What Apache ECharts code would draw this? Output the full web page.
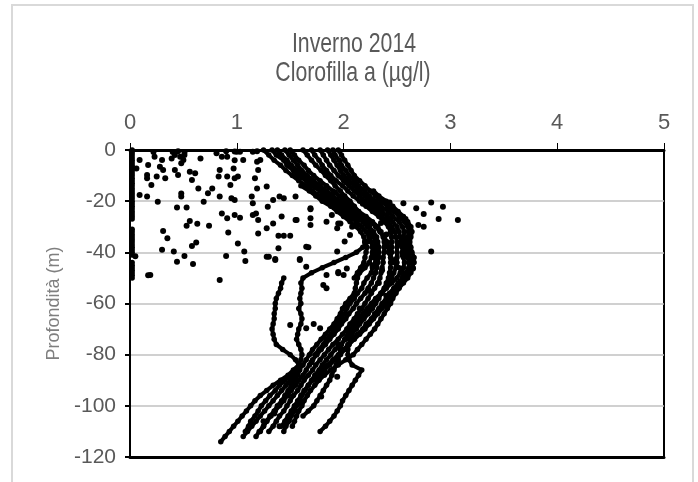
<!DOCTYPE html>
<html>
<head>
<meta charset="utf-8">
<script src="https://cdn.jsdelivr.net/npm/echarts@6/dist/echarts.min.js"></script>
<style>html,body{margin:0;padding:0;background:#fff;}#c{width:698px;height:482px;}</style>
</head>
<body>
<div id="c"></div>
<script>
// ---- data ----
const titleLines = ['Inverno 2014', 'Clorofilla a (µg/l)'];
const yName = 'Profondità (m)';
const xTicks = [0, 1, 2, 3, 4, 5];
const yTicks = [0, -20, -40, -60, -80, -100, -120];

// depths (m) at which the profile x-values below were read
const depthSteps = [0,-2,-4,-6,-8,-10,-12,-14,-16,-18,-20,-22,-24,-26,-28,-30,-32,-34,-36,-38,-40,-42,-44,-46,-48,-50,-52,-54,-56,-58,-60,-62,-64,-66,-68,-70,-72,-74,-76,-78,-80,-82,-84,-86,-88,-90,-92,-94,-96,-98,-100,-102,-104,-106,-108,-110,-112,-114];

// chlorophyll a (µg/l) of each cast, one value per depth step (null = no reading)
const cast1 = [1.62,1.66,1.70,1.74,1.79,1.83,1.88,1.92,1.97,2.01,
  2.06,2.10,2.14,2.18,2.22,2.24,2.25,2.24,2.22,2.18,
  2.12,2.02,1.91,1.80,1.70,1.62,1.60,1.61,1.60,1.59,
  1.60,1.58,1.60,1.61,1.60,1.58,1.57,1.56,1.58,1.60,
  1.61,1.60,1.58,1.53,1.48,1.41,1.34,1.28,1.22,1.17,
  1.13,1.09,1.05,1.01,0.97,0.93,0.89,0.85];
const cast2 = [null,null,null,null,null,null,null,null,null,null,
  null,null,null,null,null,null,null,null,null,null,
  null,null,null,null,null,1.44,1.42,1.41,1.39,1.37,
  1.36,1.36,1.35,1.35,1.34,1.33,1.34,1.35,1.37,1.43,
  1.50,1.55,1.58,1.59,1.57,1.54,1.51,1.48,1.45,1.42,
  1.38,1.35,1.31,1.28,1.25,1.22,null,null];
const cast3 = [1.25,1.30,1.35,1.41,1.46,1.52,1.58,1.65,1.71,1.78,
  1.85,1.92,1.99,2.05,2.12,2.17,2.21,2.24,2.26,2.27,
  2.27,2.26,2.24,2.20,2.15,2.13,2.12,2.11,2.10,2.06,
  2.02,1.99,1.97,1.94,1.91,1.87,1.83,1.79,1.75,1.71,
  1.68,1.65,1.62,1.58,1.54,1.50,1.46,1.42,1.38,1.34,
  1.30,1.26,1.22,1.18,1.14,1.10,1.06,null];
const cast4 = [1.38,1.42,1.47,1.51,1.57,1.62,1.68,1.74,1.80,1.87,
  1.93,1.99,2.06,2.12,2.19,2.24,2.28,2.31,2.32,2.33,
  2.33,2.33,2.32,2.31,2.30,2.28,2.26,2.23,2.20,2.16,
  2.12,2.09,2.05,2.02,1.98,1.95,1.91,1.87,1.83,1.79,
  1.75,1.71,1.68,1.65,1.62,1.58,1.55,1.51,1.47,1.44,
  1.40,1.36,1.32,1.28,1.25,1.21,1.18,null];
const cast5 = [1.50,1.54,1.58,1.63,1.67,1.72,1.78,1.84,1.90,1.96,
  2.02,2.08,2.14,2.21,2.27,2.32,2.35,2.37,2.38,2.38,
  2.38,2.37,2.37,2.36,2.35,2.34,2.32,2.29,2.26,2.23,
  2.20,2.17,2.13,2.10,2.06,2.03,1.99,1.95,1.90,1.86,
  1.82,1.78,1.74,1.71,1.67,1.63,1.60,1.57,1.53,1.50,
  1.47,1.44,1.40,1.37,1.34,1.30,null,null];
const cast6 = [1.70,1.73,1.77,1.80,1.84,1.88,1.93,1.99,2.04,2.09,
  2.15,2.21,2.27,2.33,2.38,2.42,2.44,2.45,2.45,2.45,
  2.45,2.44,2.44,2.44,2.43,2.42,2.40,2.38,2.35,2.33,
  2.30,2.27,2.23,2.19,2.15,2.12,2.07,2.02,1.97,1.92,
  1.88,1.84,1.80,1.77,1.73,1.70,1.67,1.64,1.61,1.59,
  1.56,1.54,1.51,1.49,1.46,1.44,null,null];
const cast7 = [1.85,1.88,1.91,1.94,1.97,2.00,2.05,2.10,2.15,2.20,
  2.25,2.30,2.36,2.41,2.46,2.50,2.52,2.53,2.54,2.55,
  2.55,2.56,2.57,2.56,2.53,2.50,2.45,2.40,2.36,2.32,
  2.29,2.25,2.20,2.16,2.12,2.10,2.08,2.06,2.05,2.04,
  2.04,2.05,2.08,2.17,2.14,2.11,2.08,2.05,2.02,1.99,
  1.97,1.94,1.91,1.87,1.83,1.78,null,null];
const cast8 = [1.78,1.81,1.84,1.87,1.91,1.95,2.00,2.05,2.10,2.15,
  2.20,2.25,2.31,2.36,2.41,2.45,2.48,2.49,2.50,2.50,
  2.50,2.50,2.50,2.49,2.47,2.45,2.43,2.39,2.35,2.30,
  2.26,2.22,2.18,2.14,2.10,2.07,2.04,2.01,1.98,1.97,
  1.96,1.95,1.93,1.91,1.89,1.87,1.84,1.81,1.78,1.75,
  1.72,1.67,1.62,null,null,null,null,null];
const cast9 = [1.95,1.98,2.01,2.04,2.07,2.10,2.15,2.20,2.25,2.30,
  2.35,2.41,2.47,2.52,2.57,2.60,2.61,2.60,2.59,2.60,
  2.61,2.62,2.64,2.65,2.63,2.60,2.56,2.52,2.49,2.46,
  2.44,2.41,2.38,2.35,2.32,2.29,2.25,2.21,2.17,2.13,
  2.09,2.02,1.95,1.88,1.82,1.77,1.73,1.69,1.66,1.63,
  1.61,1.58,1.56,1.54,1.52,null,null,null];
const cast10 = [1.45,1.49,1.53,1.57,1.61,1.66,1.72,1.78,1.84,1.90,
  1.97,2.04,2.11,2.18,2.25,2.30,2.34,2.38,2.41,2.42,
  2.42,2.44,2.47,2.52,2.55,2.55,2.52,2.49,2.45,2.42,
  2.40,2.36,2.32,2.28,2.24,2.20,2.15,2.10,2.05,2.00,
  1.95,1.90,1.85,1.80,1.75,1.71,1.67,1.63,1.60,1.57,
  1.54,1.51,1.48,1.45,1.42,null,null,null];
const cast11 = [1.33,1.37,1.44,1.47,1.53,1.57,1.65,1.70,1.78,1.83,
  1.91,1.97,2.04,2.10,2.18,2.22,2.27,2.28,2.30,2.29,
  2.31,2.29,2.30,2.27,2.26,2.22,2.19,2.17,2.13,2.10,
  2.06,2.03,2.01,1.97,1.95,1.91,1.88,1.84,1.81,1.77,
  1.73,null,null,null,null,null,null,null,null,null,
  null,null,null,null,null,null,null,null];
const cast12 = [1.90,1.92,1.96,1.98,2.02,2.05,2.10,2.14,2.20,2.24,
  2.30,2.35,2.42,2.46,2.52,2.55,2.57,2.56,2.57,2.58,
  2.58,2.60,2.61,2.61,2.58,2.56,2.51,2.47,2.43,2.40,
  2.36,2.33,2.29,2.26,2.21,2.18,2.13,2.09,2.04,2.01,
  1.97,1.92,1.87,1.82,1.78,1.74,null,null,null,null,
  null,null,null,null,null,null,null,null];
const cast13 = [null,null,null,null,null,null,null,1.60,1.68,1.74,
  1.80,1.88,1.94,2.00,2.06,2.12,2.16,2.19,2.20,2.22,
  2.21,2.20,2.19,2.16,2.13,2.10,null,null,null,null,
  null,null,null,null,null,null,null,null,null,null,
  null,null,null,null,null,null,null,null,null,null,
  null,null,null,null,null,null,null,null];
const cast14 = [null,null,null,null,null,null,null,null,2.28,2.33,
  2.40,2.46,2.51,2.56,2.60,2.63,2.64,2.63,2.62,2.63,
  2.64,2.66,2.66,2.64,2.60,2.57,2.53,2.50,null,null,
  null,null,null,null,null,null,null,null,null,null,
  null,null,null,null,null,null,null,null,null,null,
  null,null,null,null,null,null,null,null];
const cast15 = [null,null,null,null,null,null,null,null,null,null,
  null,null,null,null,null,null,null,null,null,null,
  null,null,null,null,null,null,null,null,null,null,
  null,null,null,null,null,null,null,null,null,null,
  null,null,null,1.55,1.50,1.45,1.40,1.36,1.31,1.27,
  1.23,1.20,1.17,1.13,1.11,1.08,null,null];

// scattered single readings [chl, depth]
const looseDots = [[0.06,-7.2],[0.09,-3.9],[0.17,-5.9],[0.23,-2.6],[0.16,-9.8],[0.16,-11],[0.2,-13.7],[0.25,-10.4],
  [0.3,-3.9],[0.28,-6.5],[0.31,-7.8],[0.33,-11],[0.39,-3.3],[0.42,-2],[0.47,-2.6],[0.5,-3.9],[0.51,-2],[0.48,-5.2],
  [0.42,-7.8],[0.45,-9.8],[0.56,-8.5],[0.61,-9.1],[0.66,-3.3],[0.58,-11.7],[0.64,-15],[0.73,-16.9],[0.77,-15],
  [0.81,-1.3],[0.86,-2.6],[0.91,-2.6],[0.84,-7.8],[0.83,-10.4],[0.91,-10.4],[0.97,-7.2],[0.98,-11],[1.01,-10.4],
  [0.94,-13.7],[0.98,-4],[1.06,-3.9],[1.03,-0.7],[1.0,-0.7],[0.84,-18.2],[0.48,-18.2],[0.48,-17],[0.09,-17.6],
  [0.16,-18.2],[0.26,-20.2],[0.69,-20.2],[0.95,-18.9],[0.98,-19.5],[1.14,-18.2],[1.15,-20.8],[1.19,-15],[1.17,-11],
  [1.2,-7.8],[1.19,-4.6],[1.22,-3.9],[1.28,-14.3],[1.29,-22.2],[1.34,-19.5],[1.4,-18.2],[1.55,-18.2],[0.44,-22.5],
  [0.53,-22.5],[0.86,-24.8],[0.91,-26.7],[0.98,-25.4],[1.03,-26.5],[1.15,-25.4],[1.18,-24.8],[1.42,-26],[1.55,-27.4],
  [0.56,-27.8],[0.63,-28.8],[0.53,-29.6],[0.74,-29.6],[0.31,-31.7],[0.92,-32.2],[1.2,-32.6],[1.28,-30.6],[1.34,-28.7],
  [0.35,-34.5],[1.39,-33.5],[1.44,-33.5],[1.5,-33.5],[0.62,-36.2],[0.58,-37.5],[1.01,-36.5],[0.3,-39],[0.41,-39.7],
  [0.51,-41.4],[0.59,-44.6],[0.44,-43.7],[0.19,-48.9],[0.9,-41.4],[0.84,-50.8],[1.07,-39.7],[1.08,-43.4],[1.28,-41.7],
  [1.36,-42.6],[1.39,-38.4],[1.59,-42.6],[1.67,-38],[1.65,-45.6],[1.84,-48.9],[1.95,-48.2],[2.03,-46.3],[1.94,-30.6],
  [1.95,-28.7],[2.04,-23.5],[1.69,-23.2],[1.69,-26.7],[1.84,-28],[1.2,-27.4],[1.44,-18.9],[1.69,-22.8],[1.56,-27.4],
  [1.69,-29.3],[1.89,-25.4],[1.97,-28.7],[2.08,-30],[2.06,-33.2],[2.01,-35.8],[1.65,-37.8],[1.94,-39.7],
  [2.43,-20.5],[2.56,-20.8],[2.68,-22.8],[2.82,-20.5],[2.93,-22.2],[2.75,-25],[2.89,-27],[3.07,-27.4],[2.82,-39.7],
  [2.7,-29.3],[2.75,-30],[2.65,-46.3],[0.22,-0.8],[0.4,-0.8],[0.45,-0.5],[0.51,-1],[0.9,-0.5],[0.98,-0.6],[1.15,-0.7],
  [1.19,-0.5],[0.05,-41.5],[0.17,-49],[1.3,-41.7],[1.36,-43],[1.59,-43],[1.95,-47.7],[2.0,-48.9],[1.81,-52.8],
  [1.84,-54],[1.5,-68.4],[1.65,-69.7],[1.72,-68],[1.78,-69.7],[1.94,-88.6],[1.79,-96.4],
  [2.35,-28.5],[2.4,-33],[2.3,-41],[2.48,-43],[2.36,-47],[2.2,-36],[2.52,-37],[2.58,-27],[2.45,-31],[2.27,-45],
  [2.15,-27],[2.1,-24.5],[2.0,-19],[1.92,-16.5],[2.18,-21],[2.42,-24],[2.55,-41],[2.6,-35],[2.33,-52],[2.24,-55],
  [2.4,-57],[2.15,-62],[2.05,-71],[1.95,-76],[1.7,-83],[1.48,-96],[1.35,-103],[1.6,-99],[1.4,-108],[1.25,-106]];

// near-zero readings of one cast (chl ≈ 0.02)
const zeroCastX = 0.02;
const zeroCastDepths = [0,-1,-2,-3,-4,-5,-6,-7,-8,-9,-10,-11,-12,-13,-14,-15,-16,-17,-18,-19,-20,-21,-22,-23,-24,-25,-26,-27,
  -31,-32,-33,-34,-35,-36,-37,-38,-39,-40,-41,-44,-45,-46,-47,-48,-49,-50];

// ---- build ----
const casts = [cast1,cast2,cast3,cast4,cast5,cast6,cast7,cast8,cast9,cast10,cast11,cast12,cast13,cast14,cast15];
const zeroPoints = zeroCastDepths.map(d => [zeroCastX, d]);

const FONT = "'Liberation Sans',Arial,sans-serif";
const castSeries = casts.map((c, k) => ({
  name: 'cast' + (k + 1), type: 'line', xAxisIndex: 0, silent: true,
  data: c.map((v, i) => v === null ? null : [v, depthSteps[i]]).filter(p => p !== null),
  symbol: 'circle', symbolSize: 5.5, showSymbol: true,
  itemStyle: {color: '#000', opacity: 1}, lineStyle: {color: '#000', width: 4}
}));

const chart = echarts.init(document.getElementById('c'), null, {renderer: 'canvas'});
chart.setOption({
  animation: false,
  backgroundColor: '#fff',
  graphic: [{
    type: 'rect', silent: true, z: -1,
    shape: {x: 12, y: 5, width: 681, height: 500},
    style: {fill: 'none', stroke: '#d9d9d9', lineWidth: 2}
  }, {
    type: 'text', silent: true, x: 354, y: 30, scaleX: 0.76,
    style: {text: titleLines[0], font: '28px ' + FONT, fill: '#595959', align: 'center', verticalAlign: 'top'}
  }, {
    type: 'text', silent: true, x: 353, y: 59, scaleX: 0.76,
    style: {text: titleLines[1], font: '28px ' + FONT, fill: '#595959', align: 'center', verticalAlign: 'top'}
  }],
  grid: {left: 130, right: 34, top: 150, bottom: 25, show: true, borderColor: '#000', borderWidth: 2, backgroundColor: 'transparent'},
  xAxis: [{
    type: 'value', position: 'top', min: xTicks[0], max: xTicks[xTicks.length - 1], interval: 1,
    axisLine: {show: true, lineStyle: {color: '#000', width: 3}},
    axisTick: {show: true, inside: false, length: 7, lineStyle: {color: '#000', width: 1}},
    axisLabel: {fontFamily: FONT, fontSize: 22, color: '#595959', margin: 16},
    splitLine: {show: false}
  }, {
    type: 'value', position: 'bottom', min: xTicks[0], max: xTicks[xTicks.length - 1], interval: 1,
    axisLine: {show: true, lineStyle: {color: '#000', width: 3}},
    axisTick: {show: false}, axisLabel: {show: false}, splitLine: {show: false}
  }],
  yAxis: {
    type: 'value', min: yTicks[yTicks.length - 1], max: yTicks[0], interval: 20,
    name: yName, nameLocation: 'middle', nameRotate: 90, nameGap: 55,
    nameTextStyle: {fontFamily: FONT, fontSize: 18, color: '#7f7f7f'},
    axisLine: {show: true, lineStyle: {color: '#000', width: 2}},
    axisTick: {show: true, inside: false, length: 5, lineStyle: {color: '#000', width: 2}},
    axisLabel: {fontFamily: FONT, fontSize: 21, color: '#595959', margin: 14},
    splitLine: {show: true, lineStyle: {color: '#c0c0c0', width: 1.5}}
  },
  series: castSeries.concat([
    {name: 'loose', type: 'scatter', xAxisIndex: 0, data: looseDots, symbol: 'circle', symbolSize: 6,
     itemStyle: {color: '#000', opacity: 1}, silent: true},
    {name: 'zero', type: 'scatter', xAxisIndex: 0, data: zeroPoints, symbol: 'circle', symbolSize: 5.5,
     itemStyle: {color: '#000', opacity: 1}, silent: true}
  ])
});
</script>
</body>
</html>
